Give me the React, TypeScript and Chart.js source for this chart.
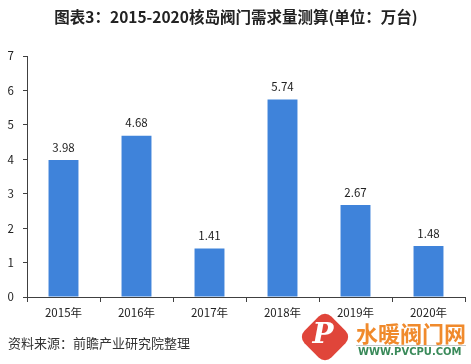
import React, { useEffect, useRef } from "react";
import { Chart, registerables } from "chart.js";

Chart.register(...registerables);

const categories = ["2015年", "2016年", "2017年", "2018年", "2019年", "2020年"];
const values = [3.98, 4.68, 1.41, 5.74, 2.67, 1.48];
const yTicks = [0, 1, 2, 3, 4, 5, 6, 7];
const titleText = "图表3：2015-2020核岛阀门需求量测算(单位：万台)";
const sourceText = "资料来源：前瞻产业研究院整理";

const CJK = '"Noto Sans CJK SC", "Noto Sans", sans-serif';

export default function App() {
  const ref = useRef<HTMLCanvasElement | null>(null);

  useEffect(() => {
    document.body.style.margin = "0";
    const canvas = ref.current!;
    const decor = {
      id: "decor",
      afterDraw(chart: any) {
        const ctx = chart.ctx;
        ctx.save();
        // title
        ctx.fillStyle = "#222";
        ctx.font = `bold 15.5px ${CJK}`;
        ctx.textAlign = "center";
        ctx.textBaseline = "middle";
        ctx.fillText(titleText, 236, 17);
        // source
        ctx.fillStyle = "#333";
        ctx.font = `13px ${CJK}`;
        ctx.textAlign = "left";
        ctx.fillText(sourceText, 8, 343);
        // data labels
        const meta = chart.getDatasetMeta(0);
        ctx.font = `11.5px ${CJK}`;
        ctx.textAlign = "center";
        ctx.textBaseline = "bottom";
        ctx.fillStyle = "#222";
        meta.data.forEach((bar: any, i: number) => {
          ctx.fillText(values[i].toFixed(2), bar.x, bar.y - 7);
        });
        // logo
        ctx.translate(325, 337);
        ctx.rotate(Math.PI / 4);
        ctx.fillStyle = "#e0453a";
        ctx.beginPath();
        (ctx as any).roundRect(-19, -19, 38, 38, 9);
        ctx.fill();
        ctx.rotate(-Math.PI / 4);
        ctx.fillStyle = "#fff";
        ctx.font = `italic bold 28px "DejaVu Serif", serif`;
        ctx.textAlign = "center";
        ctx.textBaseline = "middle";
        ctx.fillText("P", -2, -1);
        ctx.setTransform(1, 0, 0, 1, 0, 0);
        ctx.fillStyle = "#f08a2c";
        ctx.font = `bold 22px ${CJK}`;
        ctx.textAlign = "left";
        ctx.fillText("水暖阀门网", 356, 334);
        ctx.strokeStyle = "#c8c8c8";
        ctx.lineWidth = 1;
        ctx.beginPath();
        ctx.moveTo(356, 345.5);
        ctx.lineTo(466, 345.5);
        ctx.stroke();
        ctx.fillStyle = "#3a8a5a";
        ctx.font = `bold 10px "DejaVu Sans", sans-serif`;
        ctx.fillText("WWW.PVCPU.COM", 358, 352);
        ctx.restore();
      },
    };

    const chart = new Chart(canvas, {
      type: "bar",
      data: {
        labels: categories,
        datasets: [
          {
            data: values,
            backgroundColor: "#3f83da",
            categoryPercentage: 1,
            barPercentage: 0.41,
          },
        ],
      },
      options: {
        animation: false,
        responsive: false,
        maintainAspectRatio: false,
        layout: { padding: { top: 56, left: 0, right: 6, bottom: 0 } },
        plugins: {
          legend: { display: false },
          title: { display: false },
          tooltip: { enabled: false },
        },
        scales: {
          x: {
            afterFit: (s: any) => {
              s.height = 67;
            },
            grid: {
              offset: true,
              drawOnChartArea: false,
              drawTicks: true,
              tickLength: 5,
              color: "#404040",
            },
            border: { display: true, color: "#404040", width: 1 },
            ticks: {
              color: "#222",
              font: { size: 11.5, family: CJK },
              padding: 4,
            },
          },
          y: {
            min: 0,
            max: 7,
            afterFit: (s: any) => {
              s.width = 27;
            },
            afterBuildTicks: (s: any) => {
              s.ticks = yTicks.map((v) => ({ value: v }));
            },
            grid: {
              drawOnChartArea: false,
              drawTicks: true,
              tickLength: 4,
              color: "#404040",
            },
            border: { display: true, color: "#404040", width: 1 },
            ticks: {
              color: "#222",
              font: { size: 11.5, family: CJK },
              padding: 9,
            },
          },
        },
      },
      plugins: [decor],
    });
    return () => chart.destroy();
  }, []);

  return (
    <div style={{ position: "absolute", left: 0, top: 0, width: 471, height: 364, background: "#fff" }}>
      <canvas ref={ref} width={471} height={364} style={{ display: "block" }} />
    </div>
  );
}
